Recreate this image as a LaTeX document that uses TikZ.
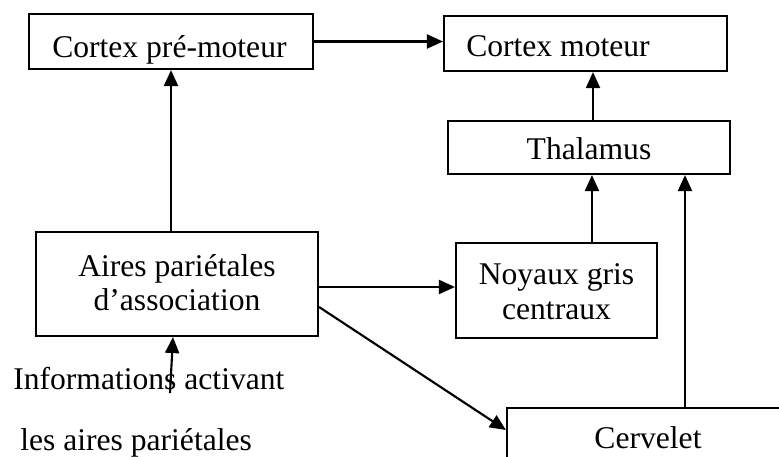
\documentclass[tikz,border=0pt]{standalone}
\usepackage{fontspec}
\setmainfont{Liberation Serif}
\usetikzlibrary{arrows.meta}
\begin{document}
\begin{tikzpicture}[x=0.75pt,y=-0.75pt,
  box/.style={draw=black,line width=1.6pt,inner sep=0pt,fill=none},
  lab/.style={inner sep=0pt,font=\fontsize{23.7pt}{26pt}\selectfont},
  arr/.style={line width=1.6pt,-{Triangle[length=12pt,width=10.5pt]}}]
\useasboundingbox (0,0) rectangle (779,457);
% boxes
\node[box,minimum width=213pt,minimum height=41.25pt] (pm) at (171,41.5) {};
\node[box,minimum width=212.25pt,minimum height=41.25pt] (cm) at (585.5,43.5) {};
\node[box,minimum width=211.5pt,minimum height=39.75pt] (th) at (589,147.5) {};
\node[box,minimum width=211.5pt,minimum height=78pt] (ap) at (177,284) {};
\node[box,minimum width=150.75pt,minimum height=71.25pt] (ng) at (556.5,290.5) {};
\node[box,minimum width=211.5pt,minimum height=52.5pt] (cv) at (648,443) {};
% texts
\node[lab,anchor=base west] (tpm) at (52,57) {Cortex pré-moteur};
\node[lab,anchor=base west] (tcm) at (466,56) {Cortex moteur};
\node[lab,anchor=base] (tth) at (589,159) {Thalamus};
\node[lab,anchor=base] (tap1) at (177,276) {Aires pariétales};
\node[lab,anchor=base] (tap2) at (177,310) {d’association};
\node[lab,anchor=base] (tng1) at (556.5,284) {Noyaux gris};
\node[lab,anchor=base] (tng2) at (556.5,319) {centraux};
\node[lab,anchor=base] (tcv) at (648,448) {Cervelet};
\node[lab,anchor=base west] (tin1) at (13,389) {Informations activant};
\node[lab,anchor=base west] (tin2) at (20,450) {les aires pariétales};
\coordinate (inS) at (170,393);
% connectors
\draw[arr] (pm.east) -- (pm.east -| cm.west);
\draw[arr] (pm.south |- ap.north) -- (pm.south);
\draw[arr] ([xshift=3pt]th.north) -- ([xshift=3pt]th.north |- cm.south);
\draw[arr] ([xshift=26.6pt]ng.north) -- ([xshift=26.6pt]ng.north |- th.south);
\draw[arr] ([xshift=27.75pt]cv.north) -- ([xshift=27.75pt]cv.north |- th.south);
\draw[arr] ([yshift=-2.25pt]ap.east) -- ([yshift=-2.25pt]ap.east -| ng.west);
\draw[arr] ([yshift=-17.25pt]ap.east) -- ([yshift=9.75pt]cv.west);
\draw[arr] (inS) -- ([xshift=-3pt]ap.south);
\end{tikzpicture}
\end{document}
